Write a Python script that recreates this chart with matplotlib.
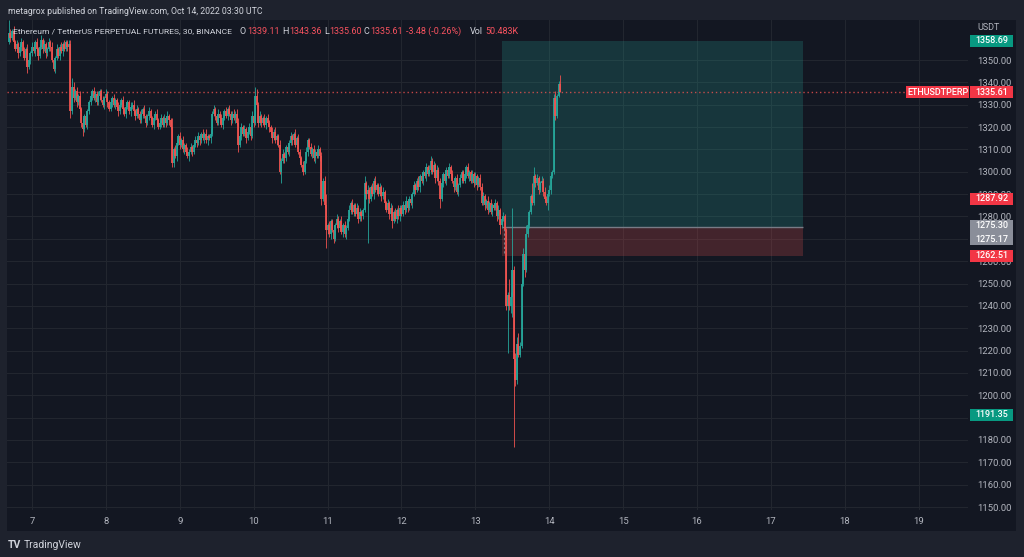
import numpy as np
import matplotlib
matplotlib.use("Agg")
import matplotlib.pyplot as plt
import matplotlib.transforms as mtransforms
from matplotlib.patches import Rectangle

# ETHUSDT perp, 30 min candles, first candle Oct 6 16:30 UTC (x axis = day of month)
first_time = 6.6875
first_open = 1358.0
closes = [
    1362, 1360, 1363, 1358, 1355, 1357, 1353, 1356, 1358, 1354,
    1351, 1355, 1347, 1350, 1353, 1356, 1354, 1358, 1355, 1352,
    1356, 1359, 1355, 1357, 1353, 1355, 1358, 1356, 1350, 1346,
    1351, 1355, 1352, 1356, 1354, 1357, 1355, 1358, 1356, 1357,
    1327, 1338, 1333, 1336, 1331, 1334, 1328, 1322, 1319, 1325,
    1321, 1327, 1331, 1334, 1336, 1333, 1335, 1331, 1334, 1336,
    1332, 1330, 1333, 1335, 1331, 1328, 1331, 1333, 1330, 1332,
    1329, 1327, 1330, 1332, 1328, 1326, 1329, 1331, 1327, 1329,
    1330, 1327, 1325, 1328, 1326, 1323, 1326, 1328, 1325, 1322,
    1325, 1327, 1324, 1321, 1324, 1326, 1323, 1320, 1322, 1324,
    1321, 1324, 1322, 1325, 1323, 1320, 1304, 1310, 1307, 1313,
    1316, 1312, 1314, 1310, 1312, 1309, 1307, 1309, 1311, 1309,
    1312, 1314, 1313, 1316, 1314, 1317, 1315, 1317, 1314, 1316,
    1315, 1317, 1326, 1328, 1325, 1322, 1326, 1324, 1321, 1324,
    1327, 1325, 1328, 1326, 1323, 1326, 1324, 1326, 1322, 1312,
    1316, 1320, 1317, 1319, 1315, 1318, 1320, 1316, 1325, 1322,
    1334, 1330, 1322, 1325, 1322, 1324, 1321, 1324, 1322, 1320,
    1318, 1315, 1318, 1314, 1316, 1312, 1300, 1305, 1308, 1306,
    1311, 1309, 1313, 1316, 1314, 1317, 1312, 1315, 1309, 1306,
    1303, 1300, 1305, 1309, 1314, 1311, 1308, 1310, 1306, 1309,
    1307, 1310, 1307, 1288, 1296, 1285, 1274, 1276, 1272, 1278,
    1274, 1270, 1276, 1279, 1275, 1278, 1273, 1276, 1272, 1275,
    1279, 1283, 1286, 1282, 1285, 1281, 1284, 1279, 1282, 1280,
    1283, 1295, 1290, 1292, 1288, 1293, 1290, 1296, 1292, 1294,
    1290, 1293, 1289, 1291, 1286, 1283, 1286, 1281, 1284, 1278,
    1282, 1279, 1283, 1280, 1284, 1281, 1285, 1283, 1287, 1284,
    1288, 1286, 1290, 1294, 1292, 1296, 1293, 1298, 1296, 1300,
    1298, 1302, 1299, 1301, 1305, 1300, 1303, 1297, 1301, 1296,
    1288, 1295, 1299, 1296, 1301, 1298, 1302, 1299, 1296, 1293,
    1297, 1291, 1294, 1297, 1300, 1296, 1299, 1302, 1298, 1300,
    1296, 1299, 1295, 1298, 1294, 1297, 1293, 1286, 1289, 1285,
    1287, 1283, 1286, 1282, 1285, 1284, 1286, 1280, 1283, 1276,
    1279, 1280, 1274, 1240, 1245, 1240, 1244, 1256, 1216, 1207,
    1223, 1218, 1222, 1250, 1263, 1256, 1272, 1276, 1282, 1289,
    1286, 1298, 1295, 1297, 1292, 1295, 1296, 1291, 1288, 1286,
    1290, 1292, 1298, 1300, 1333, 1325, 1334, 1339.11, 1335.61,
]
upper_wick = [
    6, 2, 1, 2, 1, 2, 1, 1, 2, 1,
    2, 1, 2, 1, 1, 2, 1, 1, 2, 1,
    1, 2, 1, 2, 1, 1, 2, 1, 2, 1,
    1, 2, 1, 1, 2, 1, 2, 1, 1, 2,
    2, 4, 2, 1, 2, 1, 2, 1, 2, 1,
    2, 1, 1, 2, 1, 2, 1, 1, 2, 1,
    1, 2, 1, 2, 1, 1, 2, 1, 2, 1,
    1, 2, 1, 1, 2, 1, 2, 1, 1, 2,
    1, 2, 1, 2, 1, 1, 2, 1, 2, 1,
    1, 2, 1, 1, 2, 1, 2, 1, 1, 2,
    1, 2, 1, 2, 1, 1, 4, 1, 2, 1,
    1, 2, 1, 2, 1, 1, 2, 1, 2, 1,
    1, 2, 1, 2, 1, 1, 2, 1, 2, 1,
    1, 2, 1, 2, 1, 1, 2, 1, 2, 1,
    1, 2, 1, 2, 1, 1, 2, 1, 2, 2,
    1, 2, 1, 2, 1, 1, 2, 1, 2, 1,
    4, 3, 1, 2, 1, 1, 2, 1, 2, 1,
    1, 2, 1, 2, 1, 1, 2, 1, 2, 1,
    1, 2, 1, 2, 1, 1, 2, 1, 2, 1,
    1, 2, 1, 2, 1, 1, 2, 1, 2, 1,
    1, 2, 1, 2, 1, 2, 5, 1, 2, 1,
    1, 2, 1, 2, 1, 1, 2, 1, 2, 1,
    1, 2, 1, 2, 1, 1, 2, 1, 2, 1,
    1, 3, 1, 2, 1, 1, 2, 1, 2, 1,
    1, 2, 1, 2, 1, 1, 2, 1, 2, 1,
    1, 2, 1, 2, 1, 1, 2, 1, 2, 1,
    1, 2, 1, 2, 1, 1, 2, 1, 2, 1,
    1, 2, 1, 2, 2, 1, 2, 1, 2, 1,
    1, 2, 1, 2, 1, 1, 2, 1, 2, 1,
    1, 2, 1, 2, 1, 1, 2, 1, 2, 1,
    1, 2, 1, 2, 1, 1, 2, 2, 2, 1,
    1, 2, 1, 2, 1, 1, 2, 1, 2, 1,
    1, 2, 1, 1, 1, 7, 2, 28, 2, 3,
    3, 5, 2, 2, 3, 7, 4, 2, 1, 1,
    6, 4, 1, 2, 1, 1, 2, 1, 2, 1,
    1, 2, 1, 1, 2, 3, 1, 1.5, 4.25,
]
lower_wick = [
    1, 2, 1, 2, 1, 1, 2, 1, 2, 1,
    1, 2, 3, 1, 2, 1, 1, 2, 1, 2,
    1, 1, 2, 1, 2, 1, 1, 2, 1, 1,
    2, 1, 1, 2, 1, 2, 1, 1, 2, 1,
    3, 1, 2, 1, 2, 1, 1, 2, 3, 1,
    1, 2, 1, 1, 2, 1, 2, 1, 1, 2,
    1, 1, 2, 1, 2, 1, 1, 2, 1, 2,
    1, 2, 1, 1, 2, 1, 2, 1, 1, 2,
    1, 1, 2, 1, 2, 1, 1, 2, 1, 2,
    1, 2, 1, 1, 2, 1, 2, 1, 1, 2,
    1, 1, 2, 1, 2, 1, 2, 2, 1, 2,
    1, 2, 1, 1, 2, 1, 1, 2, 1, 2,
    1, 1, 2, 1, 2, 1, 1, 2, 1, 2,
    1, 2, 1, 1, 2, 1, 1, 2, 1, 2,
    1, 1, 2, 1, 2, 1, 1, 2, 1, 3,
    1, 2, 1, 1, 2, 1, 1, 2, 1, 2,
    1, 1, 2, 1, 2, 1, 1, 2, 1, 2,
    1, 2, 1, 1, 2, 1, 1, 5, 1, 2,
    1, 1, 2, 1, 2, 1, 1, 2, 1, 2,
    1, 1.5, 1, 1, 2, 1, 1, 2, 1, 2,
    1, 1, 2, 3, 1, 1, 8, 2, 1, 2,
    1, 2, 1, 1, 2, 1, 1, 2, 1, 2,
    1, 1, 2, 1, 2, 1, 1, 2, 1, 2,
    1, 1, 2, 22, 2, 1, 1, 2, 1, 2,
    1, 1, 2, 1, 2, 1, 1, 2, 1, 3,
    1, 1, 2, 1, 2, 1, 1, 2, 1, 2,
    1, 1, 2, 1, 2, 1, 1, 2, 1, 2,
    1, 2, 1, 1, 2, 1, 1, 2, 1, 2,
    4, 1, 2, 1, 2, 1, 1, 2, 1, 2,
    1, 1, 2, 1, 2, 1, 1, 2, 1, 2,
    1, 1, 2, 1, 2, 1, 1, 1, 1, 2,
    1, 2, 1, 1, 2, 1, 1, 2, 1, 4,
    1, 1, 1, 2, 21, 2, 3, 9, 39, 3,
    2, 1, 1, 1, 1, 3, 1, 1, 1, 1,
    1, 1, 2, 1, 2, 1, 1, 2, 1, 1,
    3, 1, 2, 1, 1, 2, 1, 0.5, 0.01,
]

# long position tool
pos_start, pos_end = 13.36, 17.43
take_profit, entry, stop = 1358.69, 1275.30, 1262.51
last_price = 1335.61

day_ticks = list(range(7, 20))
price_ticks = list(range(1150, 1351, 10))
hidden_ticks = [1190, 1270]  # fully covered by price labels on the original

BG = "#131722"
OUTER = "#1e222d"
UP = "#26a69a"
DOWN = "#ef5350"
TXT = "#b2b5be"
FS = 6.5

W, H = 1024, 557
plt.rcParams["font.family"] = ["Roboto", "DejaVu Sans"]


def fx(px):
    return px / W


def fy(py):
    return 1 - py / H


fig = plt.figure(figsize=(W / 100, H / 100), dpi=100, facecolor=OUTER)
fig.patches.append(Rectangle((fx(7), fy(531)), fx(1016) - fx(7), fy(20) - fy(531),
                             transform=fig.transFigure, fc=BG, ec="none", zorder=-5))
ax = fig.add_axes([fx(7), fy(510), fx(968) - fx(7), fy(20) - fy(510)])
ax.set_facecolor(BG)
for s in ax.spines.values():
    s.set_visible(False)

ax.set_xlim(6.6617, 19.666)
ax.set_ylim(1148.66, 1367.9)
ax.set_xticks(day_ticks)
ax.set_xticklabels([str(d) for d in day_ticks])
ax.set_yticks(price_ticks)
ax.set_yticklabels(["" if p in hidden_ticks else f"{p:.2f}" for p in price_ticks])
ax.yaxis.tick_right()
ax.tick_params(axis="both", length=0, colors=TXT, labelsize=FS + 0.3)
ax.tick_params(axis="y", pad=7)
ax.tick_params(axis="x", pad=5)
ax.grid(True, color="#22262f", lw=0.8)
ax.set_axisbelow(True)

# candles
closes_a = np.array(closes, dtype=float)
opens_a = np.concatenate([[first_open], closes_a[:-1]])
times = first_time + np.arange(len(closes_a)) / 48.0
highs = np.maximum(opens_a, closes_a) + np.array(upper_wick)
lows = np.minimum(opens_a, closes_a) - np.array(lower_wick)
colors = np.where(closes_a >= opens_a, UP, DOWN)
body_lo = np.minimum(opens_a, closes_a)
body_hi = np.maximum(np.maximum(opens_a, closes_a), body_lo + 0.4)

# position boxes
ax.add_patch(Rectangle((pos_start, entry), pos_end - pos_start, take_profit - entry,
                       fc=UP, alpha=0.22, ec="none", zorder=1))
ax.add_patch(Rectangle((pos_start, stop), pos_end - pos_start, entry - stop,
                       fc=DOWN, alpha=0.22, ec="none", zorder=1))
ax.hlines(entry, pos_start, pos_end, color="#787b86", lw=1, zorder=1.5)
ax.vlines(pos_start + 0.03, stop + 1, entry - 1, color="#787b86", lw=0.8, ls=(0, (2, 2)), zorder=1.5)

ax.vlines(times, lows, highs, colors=colors, lw=0.6, zorder=2)
ax.vlines(times, body_lo, body_hi, colors=colors, lw=1.3, zorder=2)

# last price dotted line
ax.hlines(last_price, ax.get_xlim()[0], 18.83, color=DOWN, lw=1, ls=(0, (1, 2)), alpha=0.8, zorder=1.5)

# price axis labels
blend = mtransforms.blended_transform_factory(fig.transFigure, ax.transData)
box_h = 12 / 2.235


def axis_label(price, text, fc, left=970, right=1013, y_text=None, h=box_h):
    fig.add_artist(Rectangle((fx(left), price - h / 2), fx(right) - fx(left), h,
                             transform=blend, fc=fc, ec="none", zorder=4))
    fig.add_artist(plt.Text(fx((left + right) / 2), price if y_text is None else y_text, text,
                            transform=blend, ha="center", va="center", color="white",
                            fontsize=FS, fontweight="medium", zorder=5))


axis_label(take_profit, f"{take_profit:.2f}", "#089981")
axis_label(last_price, f"{last_price:.2f}", "#f23645")
axis_label(last_price, "ETHUSDTPERP", "#f23645", left=906, right=969)
axis_label(1287.92, "1287.92", "#f23645")
axis_label(entry - 2.5, "", "#8a8e99", h=25 / 2.235)
fig.add_artist(plt.Text(fx(991.5), entry + 0.6, f"{entry:.2f}", transform=blend, ha="center", va="center",
                        color="white", fontsize=FS, fontweight="medium", zorder=5))
fig.add_artist(plt.Text(fx(991.5), entry - 5.4, "1275.17", transform=blend, ha="center", va="center",
                        color="white", fontsize=FS, fontweight="medium", zorder=5))
axis_label(stop, f"{stop:.2f}", "#f23645")
axis_label(1191.35, "1191.35", "#089981")

fig.text(fx(977), fy(28), "USDT", color=TXT, fontsize=FS, va="center")

# header texts
fig.text(fx(8), fy(11), "metagrox published on TradingView.com, Oct 14, 2022 03:30 UTC",
         color="#d1d4dc", fontsize=6.3, va="center")
legend_red = "#f7525f"
legend_parts = [
    ("Ethereum / TetherUS PERPETUAL FUTURES, 30, BINANCE", 13, "#d1d4dc", 6.1),
    ("O", 240, "#d1d4dc", FS), ("1339.11", 247, legend_red, FS),
    ("H", 282, "#d1d4dc", FS), ("1343.36", 289, legend_red, FS),
    ("L", 324, "#d1d4dc", FS), ("1335.60", 329, legend_red, FS),
    ("C", 364, "#d1d4dc", FS), ("1335.61", 370, legend_red, FS),
    ("-3.48 (-0.26%)", 406, legend_red, FS),
    ("Vol", 470, "#d1d4dc", FS), ("50.483K", 485, legend_red, FS),
]
for txt, px, col, size in legend_parts:
    fig.text(fx(px), fy(31), txt, color=col, fontsize=size, va="center")

# footer
fig.text(fx(8), fy(545), "TV", color="#d1d4dc", fontsize=7.5, fontweight="bold", va="center")
fig.text(fx(24), fy(545), "TradingView", color="#d1d4dc", fontsize=7.5, va="center")

fig.savefig("out.png", dpi=100, facecolor=OUTER)
